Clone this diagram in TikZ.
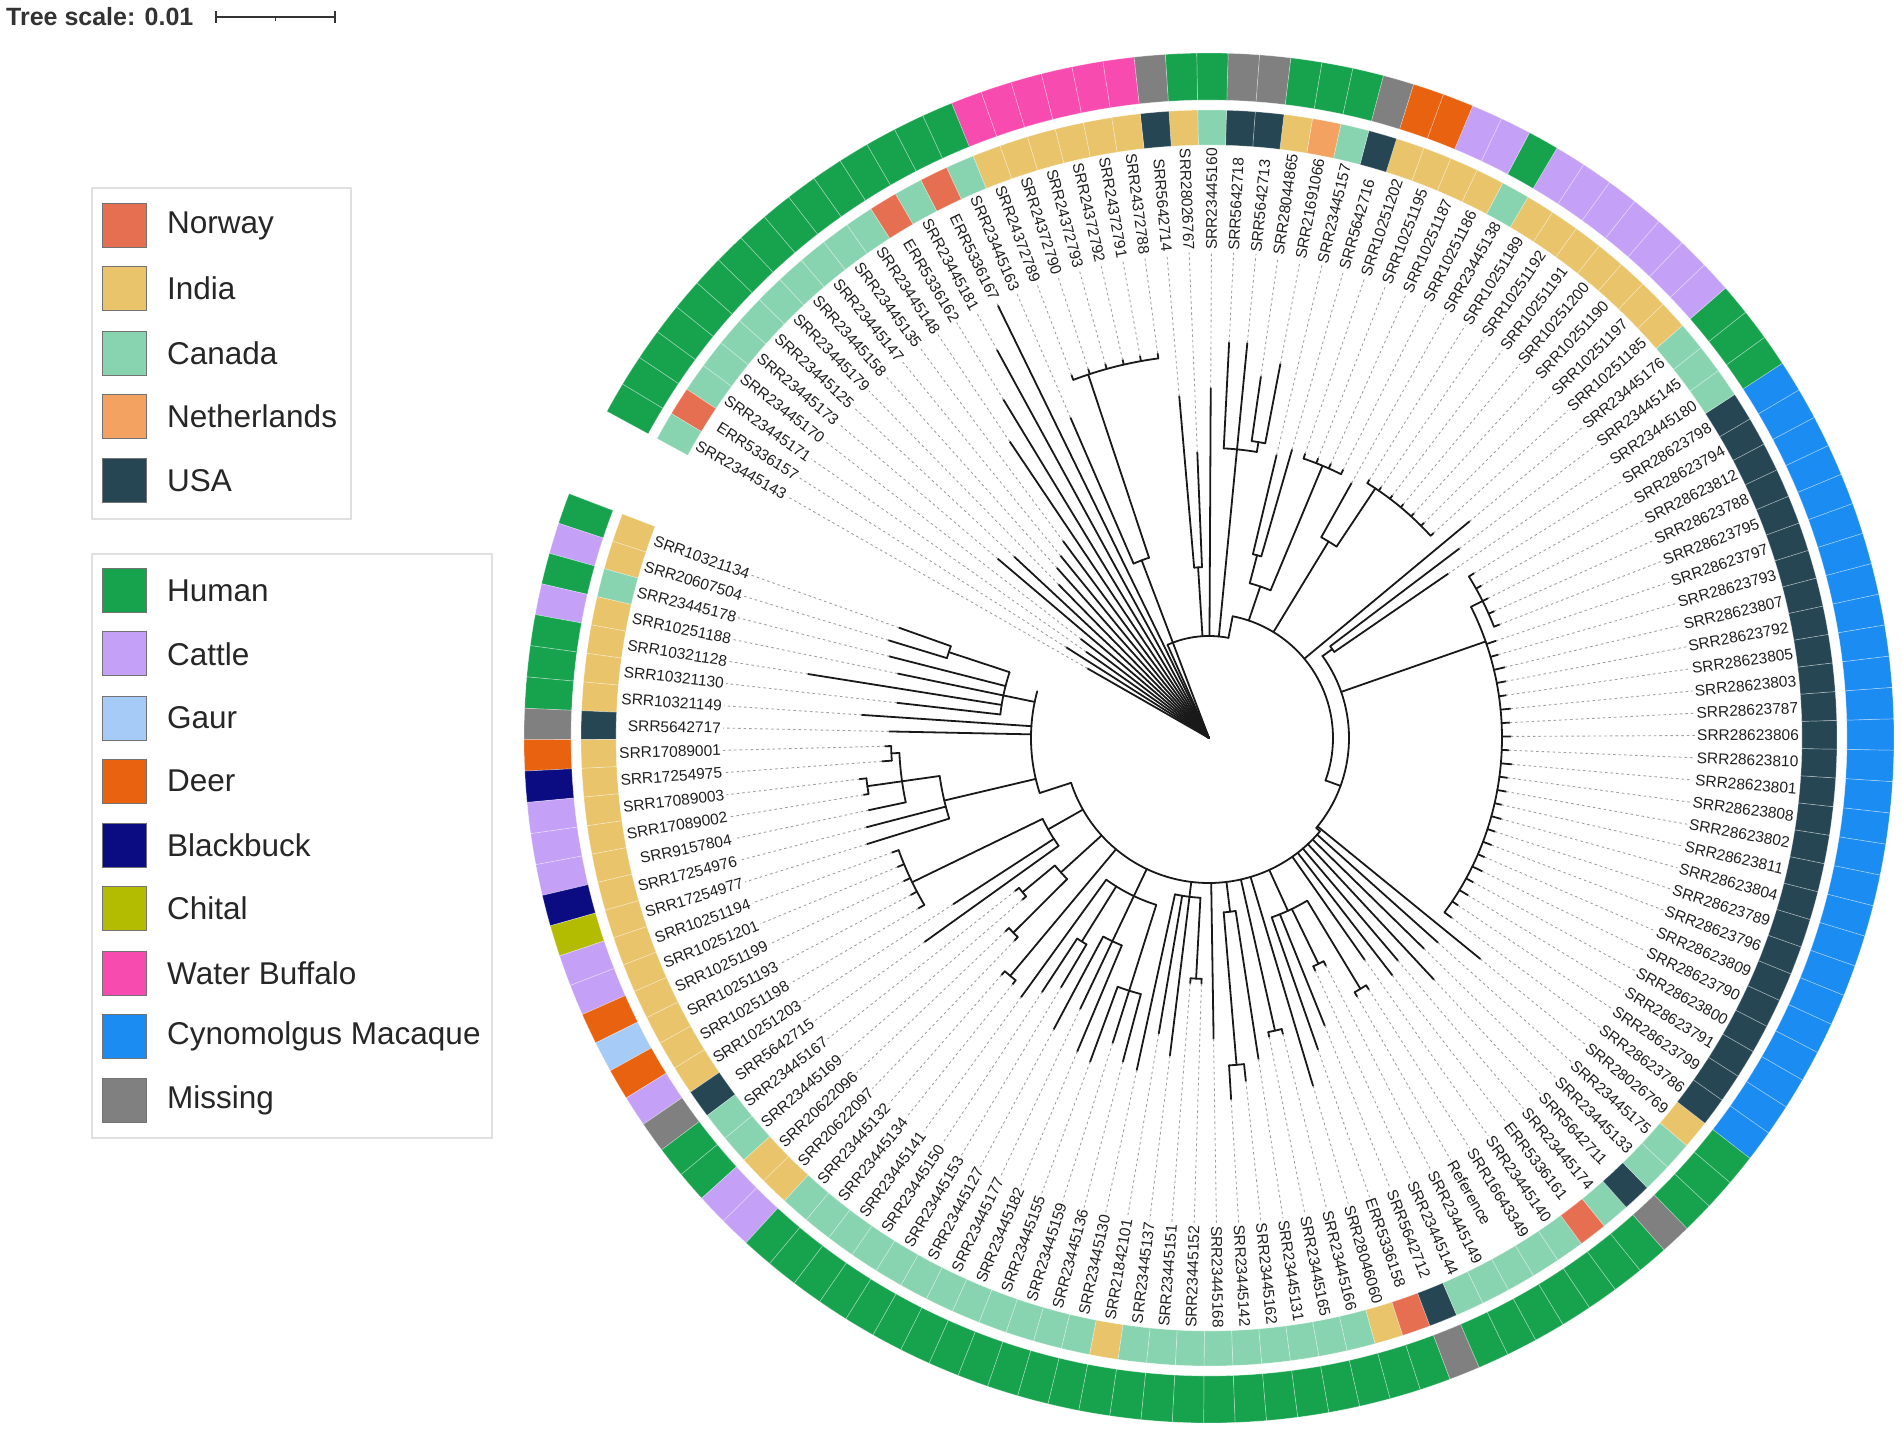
\documentclass[tikz,border=0pt]{standalone}
\usepackage{fontspec}
\setmainfont{Liberation Sans}
\usetikzlibrary{calc}
\definecolor{cNO}{HTML}{E76F51}
\definecolor{cIN}{HTML}{E9C46A}
\definecolor{cCA}{HTML}{88D4B0}
\definecolor{cNL}{HTML}{F4A261}
\definecolor{cUS}{HTML}{264653}
\definecolor{hH}{HTML}{17A24E}
\definecolor{hC}{HTML}{C4A1F7}
\definecolor{hG}{HTML}{A6CBF7}
\definecolor{hD}{HTML}{E8620F}
\definecolor{hB}{HTML}{0B0B82}
\definecolor{hT}{HTML}{B3BC00}
\definecolor{hW}{HTML}{F84BB0}
\definecolor{hM}{HTML}{1A8CF2}
\definecolor{hX}{HTML}{808080}
\newcommand\lf[3]{%
  \pgfmathsetmacro\la{160.415+2.63*(#1)}%
  \draw[br] (\la:#2pt) -- (\la:#3pt);
  \draw[dl] (\la:#3pt) -- (\la:486pt);}
\newcommand\nd[5]{%
  \pgfmathsetmacro\na{160.415+2.63*(#1)}%
  \pgfmathsetmacro\nb{160.415+2.63*(#4)}%
  \pgfmathsetmacro\nc{160.415+2.63*(#5)}%
  \draw[br] (\na:#2pt) -- (\na:#3pt);
  \draw[br] (\nb:#3pt) arc[start angle=\nb, end angle=\nc, radius=#3pt];}
\begin{document}
\begin{tikzpicture}[x=1pt,y=1pt,
  br/.style={line width=1.8pt, color=black!90, line cap=round},
  dl/.style={line width=0.9pt, color=black!38, dash pattern=on 2.5pt off 3pt},
  lab/.style={font=\fontsize{15.5}{16}\selectfont, text=black!88, inner sep=0pt},
  cell/.style={draw=white, draw opacity=0.35, line width=0.7pt},
  legt/.style={font=\fontsize{31.5}{32}\selectfont, text=black!85, anchor=west, inner sep=0pt},
  legs/.style={draw=black!55, line width=0.8pt, minimum size=44pt, inner sep=0pt},
  legbox/.style={draw=black!12, line width=1.5pt}]
\useasboundingbox (-1209,-694) rectangle (693,738);
% ---------- rings and labels
\foreach \i/\nm/\co/\ho in {
0/SRR10321134/IN/H,1/SRR20607504/IN/C,2/SRR23445178/CA/H,3/SRR10251188/IN/C,
4/SRR10321128/IN/H,5/SRR10321130/IN/H,6/SRR10321149/IN/H,7/SRR5642717/US/X,
8/SRR17089001/IN/D,9/SRR17254975/IN/B,10/SRR17089003/IN/C,11/SRR17089002/IN/C,
12/SRR9157804/IN/C,13/SRR17254976/IN/B,14/SRR17254977/IN/T,15/SRR10251194/IN/C,
16/SRR10251201/IN/C,17/SRR10251199/IN/D,18/SRR10251193/IN/G,19/SRR10251198/IN/D,
20/SRR10251203/IN/C,21/SRR5642715/US/X,22/SRR23445167/CA/H,23/SRR23445169/CA/H,
24/SRR20622096/IN/C,25/SRR20622097/IN/C,26/SRR23445132/CA/H,27/SRR23445134/CA/H,
28/SRR23445141/CA/H,29/SRR23445150/CA/H,30/SRR23445153/CA/H,31/SRR23445127/CA/H,
32/SRR23445177/CA/H,33/SRR23445182/CA/H,34/SRR23445155/CA/H,35/SRR23445159/CA/H,
36/SRR23445136/CA/H,37/SRR23445130/CA/H,38/SRR21842101/IN/H,39/SRR23445137/CA/H,
40/SRR23445151/CA/H,41/SRR23445152/CA/H,42/SRR23445168/CA/H,43/SRR23445142/CA/H,
44/SRR23445162/CA/H,45/SRR23445131/CA/H,46/SRR23445165/CA/H,47/SRR23445166/CA/H,
48/SRR28046060/IN/H,49/ERR5336158/NO/H,50/SRR5642712/US/X,51/SRR23445144/CA/H,
52/SRR23445149/CA/H,53/Reference/CA/H,54/SRR16643349/CA/H,55/SRR23445140/CA/H,
56/ERR5336161/NO/H,57/SRR23445174/CA/H,58/SRR5642711/US/X,59/SRR23445133/CA/H,
60/SRR23445175/CA/H,61/SRR28026769/IN/H,62/SRR28623786/US/M,63/SRR28623799/US/M,
64/SRR28623791/US/M,65/SRR28623800/US/M,66/SRR28623790/US/M,67/SRR28623809/US/M,
68/SRR28623796/US/M,69/SRR28623789/US/M,70/SRR28623804/US/M,71/SRR28623811/US/M,
72/SRR28623802/US/M,73/SRR28623808/US/M,74/SRR28623801/US/M,75/SRR28623810/US/M,
76/SRR28623806/US/M,77/SRR28623787/US/M,78/SRR28623803/US/M,79/SRR28623805/US/M,
80/SRR28623792/US/M,81/SRR28623807/US/M,82/SRR28623793/US/M,83/SRR28623797/US/M,
84/SRR28623795/US/M,85/SRR28623788/US/M,86/SRR28623812/US/M,87/SRR28623794/US/M,
88/SRR28623798/US/M,89/SRR23445180/CA/H,90/SRR23445145/CA/H,91/SRR23445176/CA/H,
92/SRR10251185/IN/C,93/SRR10251197/IN/C,94/SRR10251190/IN/C,95/SRR10251200/IN/C,
96/SRR10251191/IN/C,97/SRR10251192/IN/C,98/SRR10251189/IN/C,99/SRR23445138/CA/H,
100/SRR10251186/IN/C,101/SRR10251187/IN/C,102/SRR10251195/IN/D,103/SRR10251202/IN/D,
104/SRR5642716/US/X,105/SRR23445157/CA/H,106/SRR21691066/NL/H,107/SRR28044865/IN/H,
108/SRR5642713/US/X,109/SRR5642718/US/X,110/SRR23445160/CA/H,111/SRR28026767/IN/H,
112/SRR5642714/US/X,113/SRR24372788/IN/W,114/SRR24372791/IN/W,115/SRR24372792/IN/W,
116/SRR24372793/IN/W,117/SRR24372790/IN/W,118/SRR24372789/IN/W,119/SRR23445163/CA/H,
120/ERR5336167/NO/H,121/SRR23445181/CA/H,122/ERR5336162/NO/H,123/SRR23445148/CA/H,
124/SRR23445135/CA/H,125/SRR23445147/CA/H,126/SRR23445158/CA/H,127/SRR23445179/CA/H,
128/SRR23445125/CA/H,129/SRR23445173/CA/H,130/SRR23445170/CA/H,131/SRR23445171/CA/H,
132/ERR5336157/NO/H,133/SRR23445143/CA/H}{
  \pgfmathsetmacro\ca{160.415+2.63*\i}
  \pgfmathsetmacro\cs{\ca-1.315}
  \pgfmathsetmacro\ce{\ca+1.315}
  \fill[c\co, cell] (\cs:593pt) arc[start angle=\cs, end angle=\ce, radius=593pt]
     -- (\ce:628pt) arc[start angle=\ce, end angle=\cs, radius=628pt] -- cycle;
  \fill[h\ho, cell] (\cs:638pt) arc[start angle=\cs, end angle=\ce, radius=638pt]
     -- (\ce:685pt) arc[start angle=\ce, end angle=\cs, radius=685pt] -- cycle;
  \pgfmathsetmacro\cm{mod(\ca,360)}
  \pgfmathtruncatemacro\lft{(\cm>90 && \cm<270) ? 1 : 0}
  \ifnum\lft=1
    \pgfmathsetmacro\rr{\ca-180}
    \node[lab, rotate=\rr, anchor=east] (l\i) at (\ca:488pt) {\nm};
  \else
    \node[lab, rotate=\ca, anchor=west] (l\i) at (\ca:488pt) {\nm};
  \fi
}
% ---------- tree: spine
\draw[br] (0,0) -- (114:102pt);
\draw[br] (114:102pt) arc[start angle=114, end angle=79, radius=102pt];
\draw[br] (79:102pt) -- (79:124pt);
\draw[br] (79:124pt) arc[start angle=79, end angle=-20, radius=124pt];
\draw[br] (-20:124pt) -- (-20:140pt);
\draw[br] (36:140pt) arc[start angle=36, end angle=-40, radius=140pt];
\draw[br] (-40:140pt) -- (-40:145pt);
\draw[br] (-40:145pt) arc[start angle=-40, end angle=-162, radius=145pt];
\draw[br] (-162:145pt) -- (-162:178pt);
\draw[br] (-162:178pt) arc[start angle=-162, end angle=-195.2, radius=178pt];
% left (r 178)
\nd{3}{178}{210}{0.5}{5}
\nd{0.5}{210}{274}{0}{1}
\lf{0}{274}{329}\lf{1}{274}{335}
\lf{2}{210}{330}\lf{3}{210}{318}\lf{4}{210}{406}\lf{5}{210}{314}
\lf{6}{178}{348}\lf{7}{178}{320}
\nd{12.5}{178}{272}{10.5}{14}
\nd{10.5}{272}{310}{8.5}{12}
\nd{8.5}{310}{318}{8}{9}
\lf{8}{318}{324}\lf{9}{318}{328}
\nd{10.5}{310}{345}{10}{11}
\lf{10}{345}{352}\lf{11}{345}{350}
\lf{12}{310}{348}
\lf{13}{272}{354}\lf{14}{272}{358}
% bottom (r 145)
\nd{18.7}{145}{185}{17.3}{21}
\nd{17.3}{185}{330}{15}{19}
\foreach \k in {15,...,19}{\lf{\k}{330}{337}}
\lf{20}{185}{305}\lf{21}{185}{350}
\nd{23.5}{145}{200}{22.5}{24.5}
\nd{22.5}{200}{242}{22}{23}\lf{22}{242}{247}\lf{23}{242}{247}
\nd{24.5}{200}{276}{24}{25}\lf{24}{276}{281}\lf{25}{276}{281}
\nd{26.5}{145}{310}{26}{27}\lf{26}{310}{315}\lf{27}{310}{315}
\nd{32}{145}{175}{28}{35}
\lf{28}{175}{320}
\nd{29.5}{175}{240}{29}{30}\lf{29}{240}{304}\lf{30}{240}{290}
\nd{32}{175}{225}{31}{33}\lf{31}{225}{330}\lf{32}{225}{300}\lf{33}{225}{340}
\nd{35}{175}{265}{34}{36}\lf{34}{265}{345}\lf{35}{265}{320}\lf{36}{265}{335}
\nd{39}{145}{160}{37}{40.5}
\lf{37}{160}{340}\lf{38}{160}{300}\lf{39}{160}{320}
\nd{40.5}{160}{241}{40}{41}\lf{40}{241}{246}\lf{41}{241}{246}
\lf{42}{145}{301}
\nd{44.3}{145}{175}{43.5}{45}
\nd{43.5}{175}{328}{43}{44}\lf{43}{328}{362}\lf{44}{328}{345}
\lf{45}{175}{325}
\nd{46.5}{145}{300}{46}{47}\lf{46}{300}{305}\lf{47}{300}{305}
\lf{48}{145}{363}
\nd{51}{145}{190}{49}{53.5}
\lf{49}{190}{330}\lf{50}{190}{310}
\nd{51.5}{190}{251}{51}{52}\lf{51}{251}{256}\lf{52}{251}{256}
\nd{53.5}{190}{293}{53}{54}\lf{53}{293}{298}\lf{54}{293}{298}
\lf{55}{145}{271}\lf{56}{145}{300}\lf{57}{145}{292}\lf{58}{145}{330}
\lf{59}{145}{301}\lf{60}{145}{307}
% right (r 140)
\lf{61}{140}{350}
\nd{83.2}{140}{293}{62}{86}
\foreach \k/\t in {62/302,63/300,64/303,65/301,66/304,67/300,68/302,69/301,70/303,71/300,
  72/302,73/301,74/304,75/300,76/302,77/301,78/303,79/300,80/302,81/304,82/301,83/303}{\lf{\k}{293}{\t}}
\nd{86}{293}{306}{84}{88}
\foreach \k in {84,...,88}{\lf{\k}{306}{312}}
\nd{89.5}{140}{152}{89}{90}\lf{89}{152}{290}\lf{90}{152}{314}
% upper right (r 124)
\lf{91}{124}{339}
\nd{98.2}{124}{230}{97.3}{99}
\nd{97.3}{230}{300}{92}{98}
\foreach \k in {92,...,98}{\lf{\k}{300}{304}}
\lf{99}{230}{292}
\nd{103}{124}{160}{101.5}{104.5}
\nd{101.5}{160}{295}{100}{103}
\foreach \k in {100,...,103}{\lf{\k}{295}{300}}
\nd{104.5}{160}{189}{104}{105}\lf{104}{189}{300}\lf{105}{189}{291}
% top (r 102)
\nd{108}{102}{290}{106.5}{109}
\lf{108}{290}{397}\lf{109}{290}{396}
\nd{106.5}{290}{300}{106}{107}\lf{106}{300}{381}\lf{107}{300}{365}
\lf{110}{102}{350}
\nd{111.5}{102}{171}{111}{112}\lf{111}{171}{286}\lf{112}{171}{343}
% root fan
\nd{118}{0}{190}{117.1}{119}
\nd{117.1}{190}{383}{113}{118}
\foreach \k in {113,...,118}{\lf{\k}{383}{388}}
\lf{119}{190}{349}
\lf{120}{0}{481}\lf{121}{0}{442}\lf{122}{0}{396}\lf{123}{0}{357}
\lf{124}{0}{245}\lf{125}{0}{235}\lf{126}{0}{228}\lf{127}{0}{215}
\lf{128}{0}{266}\lf{129}{0}{277}\lf{130}{0}{162}\lf{131}{0}{150}
\lf{132}{0}{169}\lf{133}{0}{140}
% ---------- scale
\node[anchor=west, inner sep=0pt, font=\bfseries\fontsize{25}{26}\selectfont, text=black!80] (ts) at (-1203,721) {Tree scale: 0.01};
\coordinate (sa) at (-993,721); \coordinate (sb) at (-874,721);
\draw[line width=1.5pt, black!80] (sa) -- (sb);
\draw[line width=1.5pt, black!80] ($(sa)+(0,-6)$) -- ($(sa)+(0,6)$);
\draw[line width=1.5pt, black!80] ($(sb)+(0,-6)$) -- ($(sb)+(0,6)$);
\draw[line width=1.2pt, black!80] ($(sa)!0.5!(sb)$) -- ++(0,-4);
% ---------- legends
\draw[legbox] (-1117,550) rectangle (-858,219);
\draw[legbox] (-1117,184) rectangle (-717,-400);
\foreach \y/\c/\t in {512.4/cNO/Norway,449.3/cIN/India,385/cCA/Canada,322/cNL/Netherlands,257.6/cUS/USA}{
  \node[legs, fill=\c] at (-1084.5,\y) {};
  \node[legt] at (-1042,\y) {\t};}
\foreach \y/\c/\t in {147.3/hH/Human,84.2/hC/Cattle,20/hG/Gaur,-43/hD/Deer,-107.5/hB/Blackbuck,
   -170.6/hT/Chital,-234.9/hW/Water Buffalo,-298/hM/Cynomolgus Macaque,-362/hX/Missing}{
  \node[legs, fill=\c] at (-1084.5,\y) {};
  \node[legt] at (-1042,\y) {\t};}
\end{tikzpicture}
\end{document}
